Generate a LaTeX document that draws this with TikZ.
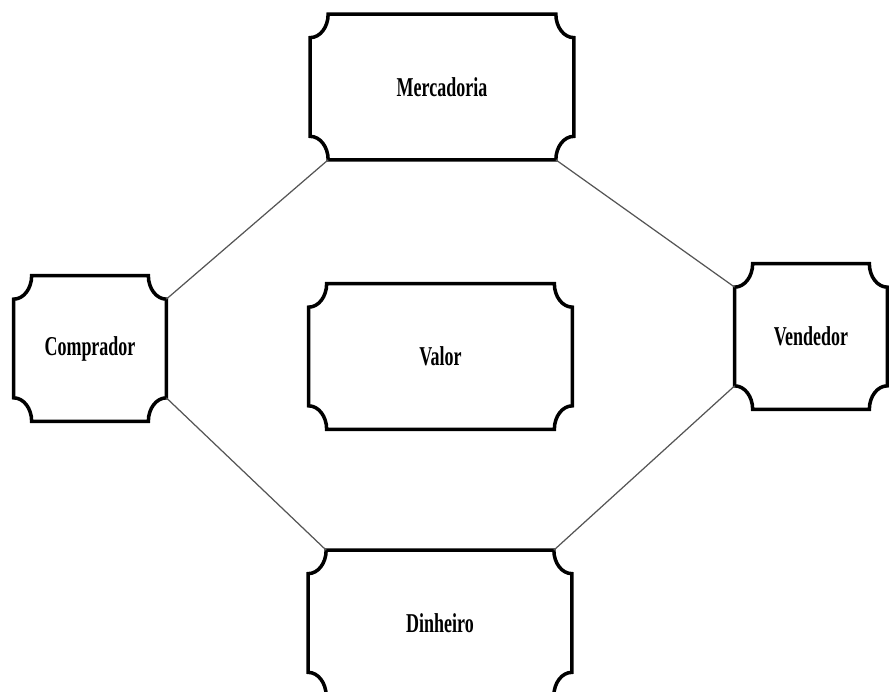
\documentclass[tikz,border=0pt]{standalone}
\usepackage{fontspec}
\newfontfamily\rotulo[FakeStretch=0.66]{Liberation Serif}
\usetikzlibrary{calc}
\definecolor{tinta}{HTML}{000000}
\definecolor{cinzalig}{HTML}{555555}
\newlength\raiox \setlength\raiox{0.36cm}
\newlength\raioy \setlength\raioy{0.47cm}
\tikzset{
  % Caixa: só reserva o espaço e o texto; o contorno vem de \caixabilhete
  caixa/.style    = {minimum height=2.90cm, inner sep=0pt, text=tinta,
                     font=\rotulo\bfseries\fontsize{15.5}{18}\selectfont},
  caixa larga/.style    = {caixa, minimum width=5.26cm},
  caixa estreita/.style = {caixa, minimum width=3.04cm},
  % Contorno com cantos recortados para dentro
  contorno/.style = {line width=2pt, color=tinta, line join=miter},
  % Linhas que ligam as caixas
  ligacao/.style  = {line width=0.7pt, color=cinzalig},
}
\newcommand\caixabilhete[1]{%
  \draw[contorno]
    ([xshift=\raiox]#1.north west) -- ([xshift=-\raiox]#1.north east)
    arc[start angle=180, end angle=270, x radius=\raiox, y radius=\raioy]
    -- ([yshift=\raioy]#1.south east)
    arc[start angle=90, end angle=180, x radius=\raiox, y radius=\raioy]
    -- ([xshift=\raiox]#1.south west)
    arc[start angle=0, end angle=90, x radius=\raiox, y radius=\raioy]
    -- ([yshift=-\raioy]#1.north west)
    arc[start angle=270, end angle=360, x radius=\raiox, y radius=\raioy]
    -- cycle;}

\begin{document}
\begin{tikzpicture}

  \clip (0,0) rectangle (17.78,13.82);

  % ============================================================
  % Caixas
  % ============================================================
  \node[caixa larga]    (merc) at (8.84,12.08) {Mercadoria};
  \node[caixa larga]    (valor) at (8.81,6.69) {Valor};
  \node[caixa estreita] (comp) at (1.80,6.85) {Comprador};
  \node[caixa estreita] (vend) at (16.22,7.09) {Vendedor};
  \node[caixa larga]    (dinh) at (8.80,1.36) {Dinheiro};

  \caixabilhete{merc}
  \caixabilhete{valor}
  \caixabilhete{comp}
  \caixabilhete{vend}
  \caixabilhete{dinh}

  % ============================================================
  % Ligações
  % ============================================================
  \draw[ligacao] ([xshift=\raiox]merc.south west) -- ([yshift=-\raioy]comp.north east);
  \draw[ligacao] ([xshift=-\raiox]merc.south east) -- ([yshift=-\raioy]vend.north west);
  \draw[ligacao] ([yshift=\raioy]comp.south east) -- ([xshift=\raiox]dinh.north west);
  \draw[ligacao] ([xshift=-\raiox]dinh.north east) -- ([yshift=\raioy]vend.south west);

\end{tikzpicture}
\end{document}
